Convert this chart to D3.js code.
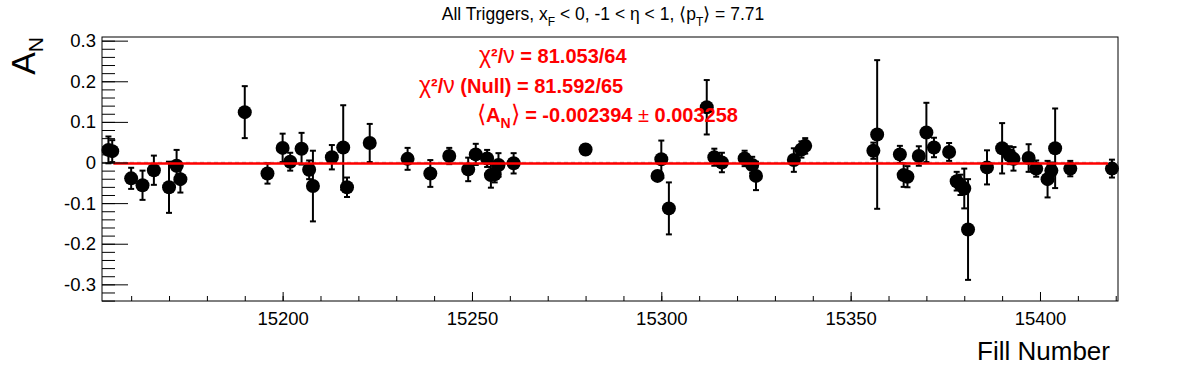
<!DOCTYPE html>
<html>
<head>
<meta charset="utf-8">
<script src="https://cdn.jsdelivr.net/npm/d3@7"></script>
<style>
  body { margin: 0; background: #fff; }
  svg { display: block; font-family: "Liberation Sans", Arial, sans-serif; }
</style>
</head>
<body>
<svg id="chart" width="1196" height="372"></svg>
<script>
// ------------------------------------
// Data
// ------------------------------------
const fills = [
  15154, 15155, 15160, 15163, 15166, 15170, 15172, 15173, 15190, 15196,
  15200, 15202, 15205, 15207, 15208, 15213, 15216, 15217, 15223, 15233,
  15239, 15244, 15249, 15251, 15254, 15255, 15256, 15257, 15261, 15280,
  15299, 15300, 15302, 15312, 15314, 15316, 15322, 15324, 15325, 15335,
  15337, 15338, 15356, 15357, 15363, 15364, 15365, 15368, 15370, 15372,
  15376, 15378, 15379, 15380, 15381, 15386, 15390, 15392, 15393, 15397,
  15399, 15402, 15403, 15404, 15408, 15419
];
const asym = [
  0.031, 0.028, -0.039, -0.056, -0.019, -0.061, -0.008, -0.041, 0.124, -0.027,
  0.036, 0.002, 0.034, -0.018, -0.058, 0.013, 0.037, -0.061, 0.048, 0.009,
  -0.027, 0.016, -0.017, 0.020, 0.010, -0.031, -0.029, -0.006, -0.002, 0.032,
  -0.033, 0.008, -0.113, 0.136, 0.013, 0.000, 0.010, -0.006, -0.033, 0.006,
  0.032, 0.041, 0.029, 0.069, 0.020, -0.031, -0.035, 0.016, 0.074, 0.037,
  0.026, -0.046, -0.055, -0.064, -0.165, -0.012, 0.035, 0.018, 0.009, 0.011,
  -0.015, -0.041, -0.020, 0.035, -0.015, -0.015
];
const errs = [
  0.033, 0.027, 0.026, 0.036, 0.036, 0.063, 0.039, 0.033, 0.064, 0.025,
  0.035, 0.022, 0.039, 0.023, 0.087, 0.030, 0.104, 0.024, 0.047, 0.027,
  0.033, 0.020, 0.029, 0.026, 0.021, 0.031, 0.020, 0.029, 0.025, 0.012,
  0.012, 0.046, 0.064, 0.067, 0.021, 0.024, 0.019, 0.020, 0.035, 0.029,
  0.020, 0.019, 0.020, 0.183, 0.021, 0.029, 0.026, 0.024, 0.073, 0.024,
  0.022, 0.023, 0.025, 0.049, 0.124, 0.042, 0.062, 0.022, 0.029, 0.034,
  0.020, 0.045, 0.020, 0.098, 0.019, 0.022
];

const fitValue = -0.002394;
const fitRange = [15155.3, 15418];

const xDomain = [15152.3, 15420.6];
const yDomain = [-0.341, 0.309];
const xMajor = [15200, 15250, 15300, 15350, 15400];
const xMajorLabels = ["15200", "15250", "15300", "15350", "15400"];
const xMinor = d3.range(15160, 15421, 10);
const yMajor = [-0.3, -0.2, -0.1, 0, 0.1, 0.2, 0.3];
const yMajorLabels = ["-0.3", "-0.2", "-0.1", "0", "0.1", "0.2", "0.3"];
const yMinor = d3.range(-34, 31, 2).map(d => d / 100);

// ------------------------------------
// Frame
// ------------------------------------
const svg = d3.select("#chart");
const frame = { left: 102, right: 1118, top: 37, bottom: 301 };

const x = d3.scaleLinear().domain(xDomain).range([frame.left, frame.right]);
const y = d3.scaleLinear().domain(yDomain).range([frame.bottom, frame.top]);

const points = fills.map((f, i) => ({ fill: f, v: asym[i], e: errs[i] }));

// Title
const title = svg.append("text")
  .attr("x", 603)
  .attr("y", 20)
  .attr("text-anchor", "middle")
  .style("font-size", "17.5px");
title.append("tspan").text("All Triggers, x");
title.append("tspan").attr("dy", 6).style("font-size", "12px").text("F");
title.append("tspan").attr("dy", -6).text(" < 0, -1 < η < 1, ⟨p");
title.append("tspan").attr("dy", 6).style("font-size", "12px").text("T");
title.append("tspan").attr("dy", -6).text("⟩ = 7.71");

// Zero line (grey dashed)
svg.append("line")
  .attr("x1", frame.left).attr("x2", frame.right)
  .attr("y1", y(0)).attr("y2", y(0))
  .attr("stroke", "#bbbbbb")
  .attr("stroke-width", 1.5)
  .attr("stroke-dasharray", "4,3");

// Error bars
const eb = svg.append("g").attr("stroke", "#000").attr("stroke-width", 2);
eb.selectAll("line.bar").data(points).join("line")
  .attr("class", "bar")
  .attr("x1", d => x(d.fill)).attr("x2", d => x(d.fill))
  .attr("y1", d => y(d.v + d.e)).attr("y2", d => y(d.v - d.e));
eb.selectAll("line.capt").data(points).join("line")
  .attr("class", "capt")
  .attr("x1", d => x(d.fill) - 3).attr("x2", d => x(d.fill) + 3)
  .attr("y1", d => y(d.v + d.e)).attr("y2", d => y(d.v + d.e));
eb.selectAll("line.capb").data(points).join("line")
  .attr("class", "capb")
  .attr("x1", d => x(d.fill) - 3).attr("x2", d => x(d.fill) + 3)
  .attr("y1", d => y(d.v - d.e)).attr("y2", d => y(d.v - d.e));

// Markers
svg.append("g").selectAll("circle").data(points).join("circle")
  .attr("cx", d => x(d.fill))
  .attr("cy", d => y(d.v))
  .attr("r", 7)
  .attr("fill", "#000");

// Fit line
svg.append("line")
  .attr("x1", x(fitRange[0])).attr("x2", x(fitRange[1]))
  .attr("y1", y(fitValue)).attr("y2", y(fitValue))
  .attr("stroke", "#ff0000")
  .attr("stroke-width", 2.6);

// ------------------------------------
// Axes (ticks point inward)
// ------------------------------------
svg.append("g")
  .attr("transform", `translate(${frame.left},0)`)
  .call(d3.axisLeft(y).tickValues(yMinor).tickSize(-13).tickFormat(""))
  .call(g => g.select(".domain").remove());

svg.append("g")
  .attr("transform", `translate(${frame.left},0)`)
  .call(d3.axisLeft(y).tickValues(yMajor).tickSize(-26).tickPadding(6)
    .tickFormat((d, i) => yMajorLabels[i]))
  .call(g => g.select(".domain").remove())
  .call(g => g.selectAll("text").style("font-size", "18.5px").attr("fill", "#000"));

svg.append("g")
  .attr("transform", `translate(0,${frame.bottom})`)
  .call(d3.axisBottom(x).tickValues(xMinor).tickSize(-5).tickFormat(""))
  .call(g => g.select(".domain").remove());

svg.append("g")
  .attr("transform", `translate(0,${frame.bottom})`)
  .call(d3.axisBottom(x).tickValues(xMajor).tickSize(-9).tickPadding(11)
    .tickFormat((d, i) => xMajorLabels[i]))
  .call(g => g.select(".domain").remove())
  .call(g => g.selectAll("text").style("font-size", "18.5px").attr("fill", "#000"));

svg.selectAll(".tick line").attr("stroke", "#000");

// Frame box
svg.append("rect")
  .attr("x", frame.left).attr("y", frame.top)
  .attr("width", frame.right - frame.left)
  .attr("height", frame.bottom - frame.top)
  .attr("fill", "none")
  .attr("stroke", "#000")
  .attr("stroke-width", 1);

// Axis titles
const yt = svg.append("text")
  .attr("transform", `translate(35,${frame.top}) rotate(-90)`)
  .attr("text-anchor", "end")
  .style("font-size", "34px");
yt.append("tspan").text("A");
yt.append("tspan").attr("dy", 8).style("font-size", "21px").text("N");

svg.append("text")
  .attr("x", 1110)
  .attr("y", 360)
  .attr("text-anchor", "end")
  .style("font-size", "26px")
  .text("Fill Number");

// ------------------------------------
// Fit results
// ------------------------------------
const red = "#ff0000";
const fs = "20px";
const greek = "23px";

const t1 = svg.append("text").attr("x", 479).attr("y", 63)
  .attr("fill", red).style("font-size", fs).style("font-weight", "bold");
t1.append("tspan").style("font-weight", "normal").style("font-size", greek).text("χ");
t1.append("tspan").text("²/");
t1.append("tspan").style("font-weight", "normal").style("font-size", greek).text("ν");
t1.append("tspan").text(" = 81.053/64");

const t2 = svg.append("text").attr("x", 419).attr("y", 92.5)
  .attr("fill", red).style("font-size", fs).style("font-weight", "bold");
t2.append("tspan").style("font-weight", "normal").style("font-size", greek).text("χ");
t2.append("tspan").text("²/");
t2.append("tspan").style("font-weight", "normal").style("font-size", greek).text("ν");
t2.append("tspan").text(" (Null) = 81.592/65");

const t3 = svg.append("text").attr("x", 477).attr("y", 121.5)
  .attr("fill", red).style("font-size", fs).style("font-weight", "bold");
t3.append("tspan").style("font-weight", "normal").style("font-size", "24px").text("⟨");
t3.append("tspan").text("A");
t3.append("tspan").attr("dy", 6).style("font-size", "14px").text("N");
t3.append("tspan").attr("dy", -6).style("font-weight", "normal").style("font-size", "24px").text("⟩");
t3.append("tspan").text(" = -0.002394 ");
t3.append("tspan").style("font-weight", "normal").text("±");
t3.append("tspan").text(" 0.003258");
</script>
</body>
</html>
